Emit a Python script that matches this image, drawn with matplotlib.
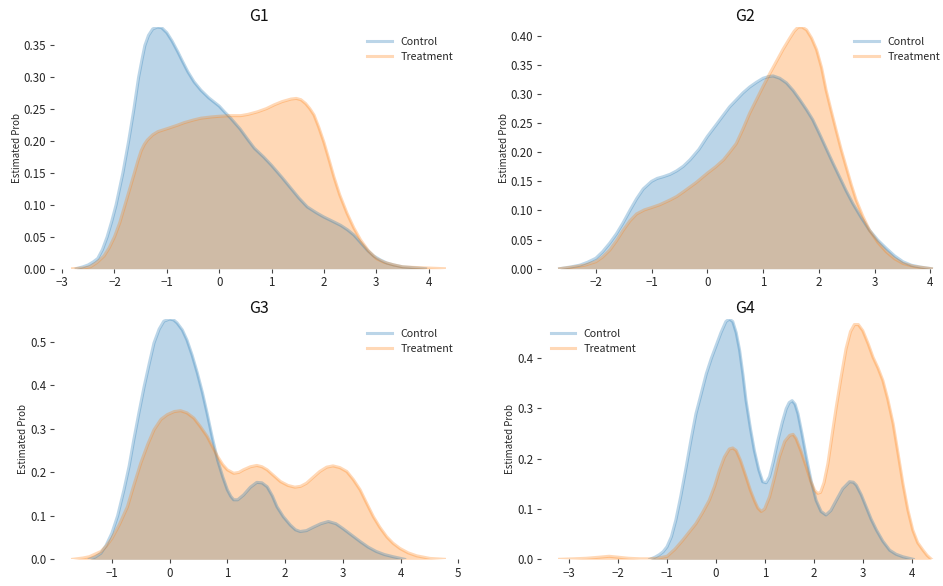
import matplotlib
matplotlib.use("Agg")
import matplotlib.pyplot as plt

plt.rcParams['font.family'] = ['Noto Sans CJK KR', 'DejaVu Sans']

# ---------------- data ----------------
titles = ["G1", "G2", "G3", "G4"]
series_names = ["Control", "Treatment"]

g1_ctrl_x = [-2.73, -2.6, -2.5, -2.4, -2.32, -2.23, -2.14, -2.05, -1.97, -1.84, -1.73, -1.63,
             -1.54, -1.47, -1.42, -1.35, -1.27, -1.18, -1.1, -1.0, -0.9, -0.79, -0.7, -0.6,
             -0.48, -0.35, -0.2, 0.0, 0.1, 0.22, 0.4, 0.55, 0.67, 0.85, 1.0, 1.2, 1.37, 1.52,
             1.68, 1.85, 2.0, 2.15, 2.32, 2.45, 2.57, 2.7, 2.83, 2.95, 3.08, 3.2, 3.33, 3.5,
             3.65, 3.8, 3.94]
g1_ctrl_y = [0.0, 0.003, 0.006, 0.011, 0.016, 0.03, 0.05, 0.075, 0.10, 0.15, 0.20, 0.25,
             0.30, 0.33, 0.35, 0.366, 0.376, 0.379, 0.378, 0.37, 0.357, 0.34, 0.325, 0.309,
             0.293, 0.28, 0.268, 0.255, 0.246, 0.236, 0.219, 0.202, 0.189, 0.175, 0.162,
             0.143, 0.126, 0.111, 0.097, 0.088, 0.081, 0.075, 0.068, 0.061, 0.053, 0.041,
             0.029, 0.02, 0.0136, 0.009, 0.006, 0.003, 0.002, 0.001, 0.0]
g1_trt_x = [-2.8, -2.6, -2.46, -2.33, -2.2, -2.1, -2.0, -1.9, -1.81, -1.71, -1.62, -1.55,
            -1.49, -1.43, -1.37, -1.27, -1.17, -0.98, -0.8, -0.67, -0.5, -0.35, -0.15, 0.0,
            0.2, 0.41, 0.55, 0.73, 0.9, 1.05, 1.2, 1.37, 1.47, 1.56, 1.65, 1.73, 1.81, 1.9,
            2.0, 2.1, 2.19, 2.3, 2.44, 2.57, 2.7, 2.85, 3.0, 3.15, 3.33, 3.5, 3.71, 4.0, 4.3]
g1_trt_y = [0.0, 0.001, 0.003, 0.01, 0.02, 0.033, 0.05, 0.072, 0.097, 0.125, 0.15, 0.17,
            0.185, 0.195, 0.202, 0.21, 0.215, 0.22, 0.225, 0.229, 0.233, 0.236, 0.238, 0.239,
            0.24, 0.24, 0.242, 0.246, 0.251, 0.257, 0.262, 0.266, 0.267, 0.265, 0.259, 0.251,
            0.241, 0.222, 0.198, 0.17, 0.144, 0.116, 0.087, 0.064, 0.045, 0.028, 0.016, 0.01,
            0.006, 0.003, 0.002, 0.001, 0.0]

g2_ctrl_x = [-2.65, -2.45, -2.29, -2.15, -2.0, -1.88, -1.75, -1.63, -1.51, -1.39, -1.27,
             -1.15, -1.0, -0.9, -0.79, -0.67, -0.55, -0.43, -0.31, -0.15, 0.0, 0.15, 0.29,
             0.4, 0.52, 0.64, 0.76, 0.88, 1.0, 1.1, 1.18, 1.3, 1.42, 1.54, 1.66, 1.78, 1.89,
             2.01, 2.13, 2.25, 2.37, 2.49, 2.61, 2.76, 2.91, 3.06, 3.21, 3.36, 3.51, 3.66,
             3.81, 4.02]
g2_ctrl_y = [0.0, 0.003, 0.006, 0.011, 0.018, 0.029, 0.044, 0.06, 0.079, 0.1, 0.12, 0.137,
             0.15, 0.155, 0.158, 0.162, 0.168, 0.176, 0.187, 0.205, 0.227, 0.246, 0.264,
             0.278, 0.29, 0.302, 0.312, 0.32, 0.327, 0.33, 0.331, 0.327, 0.319, 0.306, 0.29,
             0.273, 0.256, 0.232, 0.207, 0.182, 0.158, 0.134, 0.112, 0.088, 0.066, 0.049,
             0.035, 0.022, 0.012, 0.006, 0.003, 0.0]
g2_trt_x = [-2.65, -2.4, -2.2, -2.0, -1.88, -1.75, -1.63, -1.51, -1.39, -1.27, -1.13, -1.0,
            -0.85, -0.67, -0.55, -0.43, -0.2, 0.0, 0.15, 0.29, 0.4, 0.52, 0.64, 0.76, 0.88,
            1.0, 1.12, 1.24, 1.36, 1.48, 1.56, 1.63, 1.7, 1.78, 1.87, 1.96, 2.05, 2.13, 2.22,
            2.31, 2.4, 2.49, 2.58, 2.67, 2.79, 2.91, 3.06, 3.21, 3.36, 3.51, 3.7, 4.02]
g2_trt_y = [0.0, 0.003, 0.006, 0.012, 0.02, 0.032, 0.048, 0.066, 0.082, 0.094, 0.101, 0.105,
            0.11, 0.118, 0.124, 0.132, 0.148, 0.164, 0.175, 0.187, 0.2, 0.215, 0.24, 0.267,
            0.29, 0.313, 0.335, 0.356, 0.377, 0.396, 0.408, 0.415, 0.415, 0.41, 0.396, 0.376,
            0.345, 0.307, 0.272, 0.238, 0.205, 0.175, 0.145, 0.118, 0.09, 0.066, 0.045, 0.029,
            0.017, 0.009, 0.004, 0.0]

g3_ctrl_x = [-1.39, -1.29, -1.19, -1.1, -1.0, -0.9, -0.79, -0.7, -0.62, -0.53, -0.44, -0.35,
             -0.27, -0.18, -0.1, 0.0, 0.07, 0.13, 0.22, 0.3, 0.39, 0.48, 0.57, 0.65, 0.74,
             0.83, 0.92, 1.0, 1.06, 1.11, 1.18, 1.28, 1.4, 1.51, 1.6, 1.69, 1.78, 1.86, 1.97,
             2.09, 2.18, 2.26, 2.37, 2.49, 2.62, 2.75, 2.88, 3.0, 3.15, 3.3, 3.44, 3.58, 3.72,
             3.87, 4.07]
g3_ctrl_y = [0.0, 0.005, 0.014, 0.032, 0.06, 0.1, 0.16, 0.215, 0.275, 0.338, 0.398, 0.452,
             0.498, 0.53, 0.548, 0.553, 0.551, 0.544, 0.528, 0.505, 0.47, 0.429, 0.383, 0.336,
             0.28, 0.229, 0.19, 0.16, 0.145, 0.137, 0.137, 0.148, 0.166, 0.177, 0.176, 0.167,
             0.146, 0.121, 0.098, 0.079, 0.068, 0.064, 0.066, 0.074, 0.082, 0.087, 0.082,
             0.071, 0.056, 0.041, 0.028, 0.018, 0.011, 0.006, 0.0]
g3_trt_x = [-1.68, -1.5, -1.39, -1.19, -1.1, -1.0, -0.87, -0.73, -0.62, -0.5, -0.38, -0.27,
            -0.15, -0.04, 0.08, 0.19, 0.3, 0.42, 0.53, 0.65, 0.74, 0.83, 0.92, 1.0, 1.11, 1.2,
            1.28, 1.4, 1.51, 1.6, 1.69, 1.8, 1.92, 2.05, 2.17, 2.27, 2.37, 2.48, 2.6, 2.72,
            2.83, 2.95, 3.07, 3.18, 3.3, 3.41, 3.53, 3.64, 3.76, 3.87, 3.99, 4.13, 4.28, 4.51,
            4.76]
g3_trt_y = [0.0, 0.003, 0.006, 0.018, 0.03, 0.048, 0.08, 0.121, 0.17, 0.221, 0.264, 0.298,
            0.322, 0.333, 0.34, 0.342, 0.337, 0.325, 0.306, 0.283, 0.26, 0.237, 0.218, 0.206,
            0.198, 0.2, 0.206, 0.213, 0.216, 0.213, 0.206, 0.193, 0.179, 0.17, 0.166, 0.168,
            0.175, 0.188, 0.202, 0.212, 0.215, 0.211, 0.202, 0.184, 0.16, 0.13, 0.098, 0.074,
            0.052, 0.037, 0.025, 0.015, 0.008, 0.002, 0.0]

g4_ctrl_x = [-1.35, -1.25, -1.16, -1.08, -1.0, -0.91, -0.82, -0.72, -0.61, -0.51, -0.41, -0.3,
             -0.2, -0.1, 0.0, 0.1, 0.2, 0.27, 0.34, 0.41, 0.48, 0.55, 0.61, 0.7, 0.78, 0.87,
             0.95, 1.02, 1.09, 1.17, 1.26, 1.35, 1.43, 1.49, 1.55, 1.61, 1.67, 1.75, 1.84,
             1.94, 2.04, 2.14, 2.24, 2.34, 2.45, 2.58, 2.72, 2.8, 2.86, 2.96, 3.06, 3.16, 3.27,
             3.4, 3.54, 3.67, 3.81, 4.02]
g4_ctrl_y = [0.0, 0.004, 0.009, 0.015, 0.025, 0.045, 0.078, 0.125, 0.183, 0.238, 0.289, 0.33,
             0.368, 0.398, 0.424, 0.45, 0.472, 0.477, 0.472, 0.45, 0.415, 0.365, 0.316, 0.26,
             0.216, 0.178, 0.154, 0.152, 0.164, 0.195, 0.236, 0.272, 0.299, 0.311, 0.315,
             0.308, 0.289, 0.25, 0.203, 0.155, 0.117, 0.095, 0.088, 0.097, 0.117, 0.14, 0.154,
             0.153, 0.147, 0.128, 0.104, 0.08, 0.058, 0.036, 0.018, 0.01, 0.005, 0.0]
g4_trt_x = [-3.19, -2.9, -2.65, -2.4, -2.18, -1.98, -1.78, -1.55, -1.37, -1.2, -1.0, -0.84,
            -0.68, -0.55, -0.41, -0.28, -0.14, -0.03, 0.07, 0.17, 0.27, 0.34, 0.41, 0.5, 0.61,
            0.7, 0.78, 0.85, 0.92, 0.99, 1.09, 1.19, 1.29, 1.4, 1.5, 1.57, 1.63, 1.73, 1.84,
            1.93, 2.01, 2.07, 2.13, 2.2, 2.28, 2.37, 2.45, 2.55, 2.65, 2.74, 2.82, 2.9, 2.99,
            3.1, 3.2, 3.3, 3.4, 3.5, 3.61, 3.71, 3.81, 3.91, 4.01, 4.11, 4.22, 4.3, 4.39]
g4_trt_y = [0.0, 0.001, 0.002, 0.004, 0.006, 0.004, 0.002, 0.001, 0.001, 0.002, 0.006, 0.02,
            0.038, 0.054, 0.071, 0.092, 0.117, 0.145, 0.177, 0.203, 0.219, 0.221, 0.216, 0.196,
            0.164, 0.137, 0.117, 0.102, 0.095, 0.1, 0.124, 0.162, 0.203, 0.234, 0.246, 0.248,
            0.24, 0.215, 0.183, 0.155, 0.137, 0.131, 0.133, 0.152, 0.19, 0.25, 0.302, 0.362,
            0.418, 0.452, 0.466, 0.466, 0.454, 0.428, 0.401, 0.38, 0.355, 0.318, 0.269, 0.21,
            0.15, 0.098, 0.058, 0.033, 0.018, 0.008, 0.0]

xticks = [[-3, -2, -1, 0, 1, 2, 3, 4],
          [-2, -1, 0, 1, 2, 3, 4],
          [-1, 0, 1, 2, 3, 4, 5],
          [-3, -2, -1, 0, 1, 2, 3, 4]]
legend_locs = ["upper right", "upper right", "upper right", "upper left"]

panels = [
    ((g1_ctrl_x, g1_ctrl_y), (g1_trt_x, g1_trt_y)),
    ((g2_ctrl_x, g2_ctrl_y), (g2_trt_x, g2_trt_y)),
    ((g3_ctrl_x, g3_ctrl_y), (g3_trt_x, g3_trt_y)),
    ((g4_ctrl_x, g4_ctrl_y), (g4_trt_x, g4_trt_y)),
]

colors = ["#1f77b4", "#ff7f0e"]

# ---------------- figure ----------------
W, H = 943, 586
fig = plt.figure(figsize=(W / 100, H / 100), dpi=100)

# axes rectangles in pixels: (left, top, right, bottom)
rects_px = [(54, 27, 463, 268.7), (541, 27, 950, 268.7),
            (54, 319, 463, 559.3), (541, 319, 950, 559.3)]

for i, ((cx, cy), (tx, ty)) in enumerate(panels):
    l, t, r, b = rects_px[i]
    ax = fig.add_axes([l / W, (H - b) / H, (r - l) / W, (b - t) / H])
    for (xs, ys), name, col in zip(((cx, cy), (tx, ty)), series_names, colors):
        ax.plot(xs, ys, color=col, alpha=0.3, lw=2.2, label=name,
                solid_joinstyle='round')
        ax.fill_between(xs, 0, ys, color=col, alpha=0.3, linewidth=0)
    xmin = min(min(cx), min(tx))
    xmax = max(max(cx), max(tx))
    pad = 0.05 * (xmax - xmin)
    ax.set_xlim(xmin - pad, xmax + pad)
    ax.set_ylim(0, max(max(cy), max(ty)))
    ax.set_xticks(xticks[i])
    for s in ax.spines.values():
        s.set_visible(False)
    ax.tick_params(axis='both', length=3, width=0.8, color='#444444',
                   labelcolor='#262626', labelsize=8.3, pad=2.5)
    ax.set_title(titles[i], fontsize=11.5, color='#111111', pad=4)
    ax.set_ylabel("Estimated Prob", fontsize=7, color='#262626', labelpad=1.5)
    leg = ax.legend(loc=legend_locs[i], frameon=False, fontsize=7.7,
                    handlelength=2.3, handletextpad=0.8, labelspacing=0.5)
    for txt in leg.get_texts():
        txt.set_color('#262626')

fig.savefig("out.png", dpi=100)
